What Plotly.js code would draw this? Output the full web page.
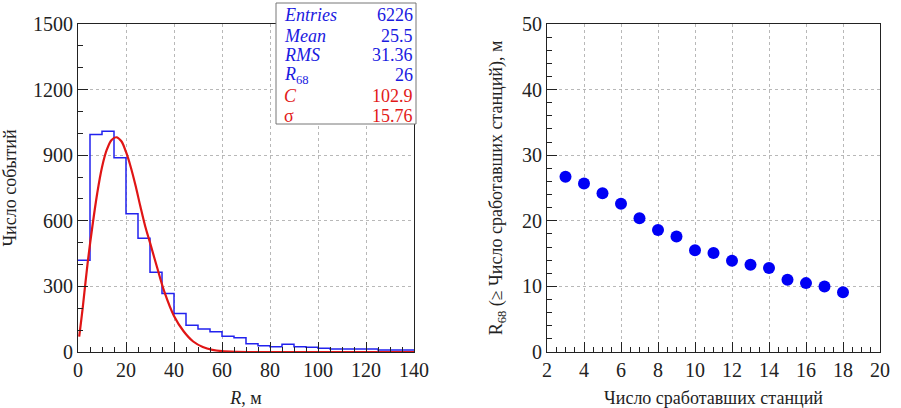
<!DOCTYPE html>
<html>
<head>
<meta charset="utf-8">
<script src="https://cdn.plot.ly/plotly-3.0.1.min.js"></script>
<style>html,body{margin:0;padding:0;background:#fff;}#chart{width:901px;height:408px;}</style>
</head>
<body>
<div id="chart"></div>
<script>
// Histogram of R (bin width 5 m)
const binEdges = [0,5,10,15,20,25,30,35,40,45,50,55,60,65,70,75,80,85,90,95,100,105,110,115,120,125,130,135,140];
const binCounts = [420,995,1009,888,632,520,365,268,176,122,105,93,72,65,38,29,24,36,24,22,17,14,14,14,14,9,9,9];
// Fitted curve
const fitR = [0.5,2,4,6,8,10,12,14,16,18,20,22,24,26,28,30,33,36,40,44,48,52,56,60,66,75,140];
const fitV = [70,205,405,575,725,845,925,970,982,965,915,845,760,665,575,500,385,275,165,95,48,23,10,4,1,0,0];
// Stats box
const statNames = ["<i>Entries</i>","<i>Mean</i>","<i>RMS</i>","<i>R</i><sub>68</sub>","<i>C</i>","σ"];
const statValues = ["6226","25.5","31.36","26","102.9","15.76"];
const statColors = ["#1a1adf","#1a1adf","#1a1adf","#1a1adf","#e21a1a","#e21a1a"];
// Right panel: R68 vs number of triggered stations
const nStations = [3,4,5,6,7,8,9,10,11,12,13,14,15,16,17,18];
const r68 = [26.7,25.7,24.2,22.6,20.4,18.6,17.6,15.5,15.1,13.9,13.3,12.8,11.0,10.5,10.0,9.1];

// build step outline
const hx = [], hy = [];
for (let i = 0; i < binCounts.length; i++) { hx.push(binEdges[i]); hy.push(binCounts[i]); }
hx.push(binEdges[binEdges.length-1]); hy.push(binCounts[binCounts.length-1]);

const serif = "Liberation Serif";
const W = 901, H = 408;
const px = v => v / W, py = v => 1 - v / H;

const traces = [
  {x: hx, y: hy, type: 'scatter', mode: 'lines', line: {shape: 'hv', color: '#2222ee', width: 1.5}, xaxis: 'x', yaxis: 'y', hoverinfo: 'skip'},
  {x: fitR, y: fitV, type: 'scatter', mode: 'lines', line: {shape: 'spline', color: '#e01515', width: 2.2}, xaxis: 'x', yaxis: 'y', hoverinfo: 'skip'},
  {x: nStations, y: r68, type: 'scatter', mode: 'markers', marker: {color: '#0000f5', size: 12}, xaxis: 'x2', yaxis: 'y2', hoverinfo: 'skip'}
];

const axBase = {
  showline: true, linecolor: '#222', linewidth: 1, mirror: true,
  ticks: 'inside', ticklen: 10, tickcolor: '#222', tickwidth: 1,
  showgrid: true, gridcolor: '#b8b8b8', griddash: 'dot', gridwidth: 1,
  zeroline: false, tickfont: {family: serif, size: 20, color: '#222'},
  fixedrange: true
};

const layout = {
  width: W, height: H, margin: {l: 0, r: 0, t: 0, b: 0},
  paper_bgcolor: '#fff', plot_bgcolor: '#fff', showlegend: false,
  font: {family: serif},
  xaxis: Object.assign({}, axBase, {
    domain: [px(78), px(414)], range: [0, 140], tickvals: [0,20,40,60,80,100,120,140],
    minor: {dtick: 5, tick0: 0, ticks: 'inside', ticklen: 5, tickcolor: '#222', showgrid: false},
    title: {text: '<i>R</i>, м', font: {family: serif, size: 18, color: '#222'}, standoff: 12},
    anchor: 'y'
  }),
  yaxis: Object.assign({}, axBase, {
    domain: [56/H, 384/H], range: [0, 1500], tickvals: [0,300,600,900,1200,1500],
    minor: {dtick: 100, tick0: 0, ticks: 'inside', ticklen: 5, tickcolor: '#222', showgrid: false},
    title: {text: 'Число событий', font: {family: serif, size: 18, color: '#222'}, standoff: 12},
    anchor: 'x'
  }),
  xaxis2: Object.assign({}, axBase, {
    domain: [px(547), px(880)], range: [2, 20], tickvals: [2,4,6,8,10,12,14,16,18,20],
    minor: {dtick: 0.5, tick0: 2, ticks: 'inside', ticklen: 5, tickcolor: '#222', showgrid: false},
    title: {text: 'Число сработавших станций', font: {family: serif, size: 18, color: '#222'}, standoff: 12},
    anchor: 'y2'
  }),
  yaxis2: Object.assign({}, axBase, {
    domain: [56/H, 384/H], range: [0, 50], tickvals: [0,10,20,30,40,50],
    minor: {dtick: 2, tick0: 0, ticks: 'inside', ticklen: 5, tickcolor: '#222', showgrid: false},
    title: {text: 'R<sub>68</sub> (≥ Число сработавших станций), м', font: {family: serif, size: 18, color: '#222'}, standoff: 14},
    anchor: 'x2'
  }),
  shapes: [
    {type: 'rect', xref: 'paper', yref: 'paper', x0: px(276), x1: px(416), y0: py(124), y1: py(3),
     fillcolor: '#fff', line: {color: '#777', width: 1}, layer: 'above'}
  ],
  annotations: []
};

const rowY = [15, 35.5, 55.5, 75, 96, 116];
for (let i = 0; i < statNames.length; i++) {
  layout.annotations.push({xref: 'paper', yref: 'paper', x: px(283), y: py(rowY[i]), xanchor: 'left', yanchor: 'middle',
    text: statNames[i], showarrow: false, borderpad: 0, font: {family: serif, size: 18, color: statColors[i]}});
  layout.annotations.push({xref: 'paper', yref: 'paper', x: px(414), y: py(rowY[i]), xanchor: 'right', yanchor: 'middle',
    text: statValues[i], showarrow: false, borderpad: 0, font: {family: serif, size: 18, color: statColors[i]}});
}

Plotly.newPlot('chart', traces, layout, {staticPlot: true, displayModeBar: false});
</script>
</body>
</html>
